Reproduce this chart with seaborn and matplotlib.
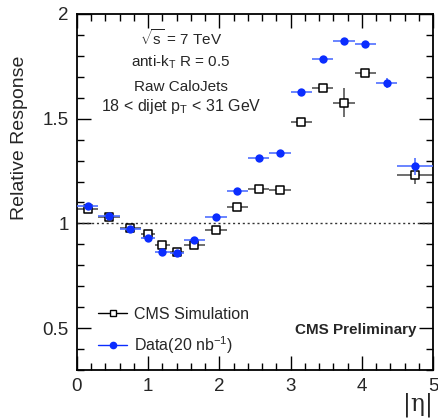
import numpy as np
import pandas as pd
import matplotlib
matplotlib.use("Agg")
import matplotlib.pyplot as plt
import seaborn as sns
from matplotlib.lines import Line2D
from matplotlib.ticker import MultipleLocator

# |eta| bin centres and half widths
eta = [0.15, 0.45, 0.75, 1.0, 1.2, 1.4, 1.65, 1.95, 2.25, 2.55, 2.85,
       3.15, 3.45, 3.75, 4.05, 4.35, 4.75]
eta_half = [0.15, 0.15, 0.15, 0.1, 0.1, 0.1, 0.15, 0.15, 0.15, 0.15, 0.15,
            0.15, 0.15, 0.15, 0.15, 0.15, 0.25]

# relative response, data (20 nb-1)
data_resp = [1.081, 1.037, 0.971, 0.930, 0.865, 0.860, 0.919, 1.032, 1.157, 1.311, 1.335,
             1.627, 1.786, 1.873, 1.856, 1.670, 1.273]
data_err = [0.005, 0.004, 0.004, 0.004, 0.004, 0.004, 0.004, 0.005, 0.005, 0.006, 0.006,
            0.007, 0.008, 0.008, 0.009, 0.024, 0.040]

# relative response, CMS simulation (no entry in the 4.2-4.5 bin)
mc_resp = [1.070, 1.029, 0.976, 0.951, 0.895, 0.863, 0.898, 0.968, 1.078, 1.163, 1.159,
           1.484, 1.648, 1.576, 1.716, np.nan, 1.230]
mc_err = [0.006, 0.006, 0.006, 0.008, 0.008, 0.008, 0.007, 0.008, 0.009, 0.010, 0.010,
          0.012, 0.015, 0.070, 0.015, np.nan, 0.040]

df = pd.DataFrame({"eta": eta, "half": eta_half,
                   "data": data_resp, "data_err": data_err,
                   "mc": mc_resp, "mc_err": mc_err})

sns.set_theme(style="ticks")
plt.rcParams["font.family"] = ["Liberation Sans", "DejaVu Sans"]
plt.rcParams["mathtext.fontset"] = "custom"
plt.rcParams["mathtext.rm"] = "Liberation Sans"
plt.rcParams["mathtext.it"] = "Liberation Sans:italic"

fig = plt.figure(figsize=(4.39, 4.19), dpi=100)
ax = fig.add_axes([77 / 439, 1 - 370 / 419, 356 / 439, 356 / 419])

data_col = "#0b2dff"
mc_col = "#000000"

ax.axhline(1.0, color="#333333", lw=1.0, ls=(0, (1.5, 2.0)), zorder=1)

mc = df.dropna(subset=["mc"])
ax.errorbar(mc["eta"], mc["mc"], xerr=mc["half"], yerr=mc["mc_err"],
            fmt="none", ecolor="#555555", elinewidth=1.2, capsize=0, zorder=2)
sns.scatterplot(data=mc, x="eta", y="mc", ax=ax, marker="s", s=30,
                facecolor="white", edgecolor=mc_col, linewidth=1.1, zorder=3)

ax.errorbar(df["eta"], df["data"], xerr=df["half"], yerr=df["data_err"],
            fmt="none", ecolor="#5070ff", elinewidth=1.2, capsize=0, zorder=4)
sns.scatterplot(data=df, x="eta", y="data", ax=ax, marker="o", s=36,
                color=data_col, edgecolor=data_col, linewidth=0, zorder=5)

ax.set_xlim(0, 5)
ax.set_ylim(0.3, 2.0)
ax.set_xlabel("")
ax.set_ylabel("")
ax.xaxis.set_major_locator(MultipleLocator(1))
ax.xaxis.set_minor_locator(MultipleLocator(0.2))
ax.yaxis.set_major_locator(MultipleLocator(0.5))
ax.yaxis.set_minor_locator(MultipleLocator(0.1))
ax.set_yticks([0.5, 1.0, 1.5, 2.0])
ax.set_yticklabels(["0.5", "1", "1.5", "2"])
ax.tick_params(which="both", direction="in", top=True, right=True,
               labelsize=13.5, color="black", width=1.0, pad=6)
ax.tick_params(which="major", length=10)
ax.tick_params(which="minor", length=5)
for sp in ax.spines.values():
    sp.set_linewidth(1.3)
    sp.set_color("black")

fig.text(20 / 439, 1 - 138 / 419, "Relative Response", rotation=90,
         ha="center", va="center", fontsize=14)
fig.text(418 / 439, 1 - 405 / 419, "|η|", ha="center", va="center",
         fontsize=17, family=["DejaVu Serif"])

# header text
ax.text(1.46, 1.886, r"$\sqrt{\mathrm{s}}$ = 7 TeV", ha="center", va="center", fontsize=11)
ax.text(1.46, 1.771, r"anti-k$_{\mathrm{T}}$ R = 0.5", ha="center", va="center", fontsize=11)
ax.text(1.46, 1.650, "Raw CaloJets", ha="center", va="center", fontsize=11)
ax.text(1.46, 1.560, r"18 < dijet p$_{\mathrm{T}}$ < 31 GeV", ha="center", va="center", fontsize=11.5)

ax.text(4.775, 0.49, "CMS Preliminary", ha="right", va="center",
        fontsize=11, fontweight="bold")

handles = [
    Line2D([], [], color="black", lw=1.0, marker="s", markersize=4.5,
           markerfacecolor="white", markeredgecolor="black"),
    Line2D([], [], color=data_col, lw=1.0, marker="o", markersize=4.5,
           markerfacecolor=data_col, markeredgecolor=data_col),
]
ax.legend(handles, ["CMS Simulation", r"Data(20 nb$^{-1}$)"], loc="lower left",
          bbox_to_anchor=(0.02, 0.0), frameon=False, fontsize=11.5,
          handlelength=1.8, handletextpad=0.45, labelspacing=0.75)

fig.savefig("out.png", dpi=100)
